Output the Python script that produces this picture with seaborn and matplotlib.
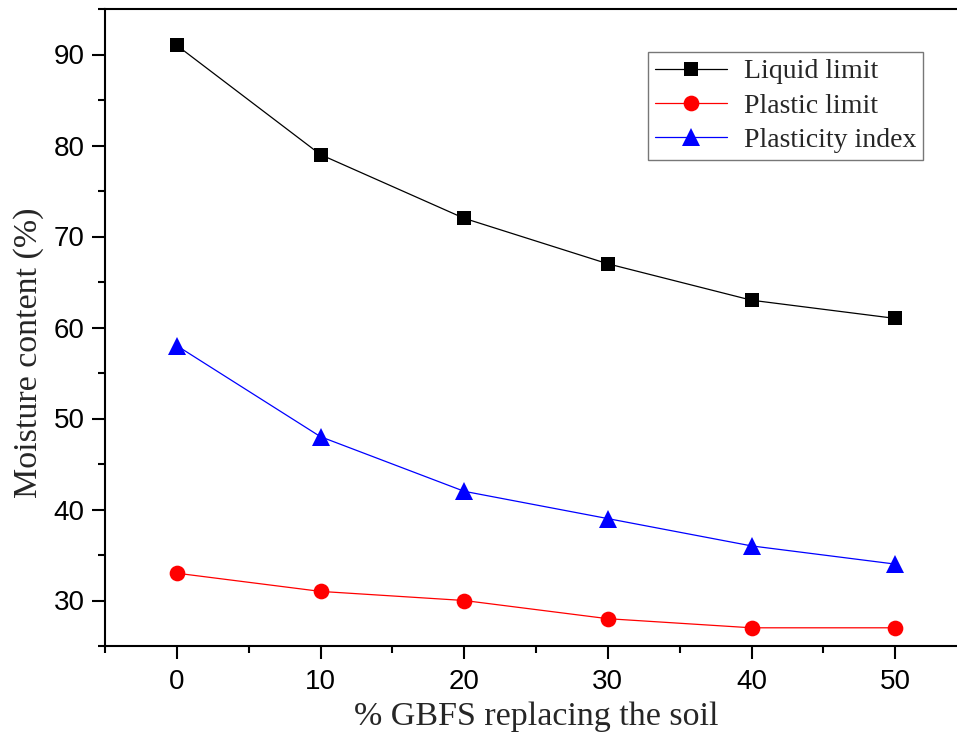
import pandas as pd
import numpy as np
import matplotlib
matplotlib.use('Agg')
import matplotlib.pyplot as plt
import seaborn as sns
from matplotlib.ticker import MultipleLocator

gbfs = [0, 10, 20, 30, 40, 50]
liquid_limit = [91, 79, 72, 67, 63, 61]
plastic_limit = [33, 31, 30, 28, 27, 27]
plasticity_index = [58, 48, 42, 39, 36, 34]

sns.set_style('ticks')
plt.rcParams['font.family'] = ['Liberation Sans', 'DejaVu Sans']

fig = plt.figure(figsize=(9.57, 7.34), dpi=100)
# right spine falls just outside the picture, as in the original
ax = fig.add_axes([105/957, 88/734, 862/957, 637/734])

series = [('Liquid limit', liquid_limit, 'black', 's', 10),
          ('Plastic limit', plastic_limit, 'red', 'o', 11.3),
          ('Plasticity index', plasticity_index, 'blue', '^', 13)]
for name, vals, col, mk, ms in series:
    sns.lineplot(x=gbfs, y=vals, ax=ax, color=col, marker=mk, markersize=ms,
                 markeredgewidth=0, linewidth=0.9, label=name)

ax.set_xlim(-5, 55)
ax.set_ylim(25, 95)
ax.xaxis.set_major_locator(MultipleLocator(10))
ax.xaxis.set_minor_locator(MultipleLocator(5))
ax.yaxis.set_major_locator(MultipleLocator(10))
ax.yaxis.set_minor_locator(MultipleLocator(5))
ax.tick_params(which='both', direction='out', width=1.5, colors='black')
ax.tick_params(which='major', length=9.5, labelsize=20)
ax.tick_params(which='minor', length=5)
ax.tick_params(axis='x', which='major', pad=7)
ax.tick_params(axis='y', which='major', pad=5)
for s in ax.spines.values():
    s.set_linewidth(1.5)
    s.set_color('black')

serif = ['Liberation Serif', 'DejaVu Serif']
ax.set_xlabel('% GBFS replacing the soil', family=serif, fontsize=24.5, labelpad=5)
ax.set_ylabel('Moisture content (%)', family=serif, fontsize=24.5)
ax.yaxis.set_label_coords(-0.071, 0.46)

leg = ax.legend(loc='upper right', bbox_to_anchor=(923/957, 1 - 52/734),
                bbox_transform=fig.transFigure, borderaxespad=0,
                prop={'family': serif, 'size': 20}, frameon=True, fancybox=False,
                handlelength=2.6, handletextpad=0.6, labelspacing=0.32,
                borderpad=0.25)
leg.get_frame().set_edgecolor('#555555')
leg.get_frame().set_linewidth(1.0)

fig.savefig('out.png', dpi=100)
